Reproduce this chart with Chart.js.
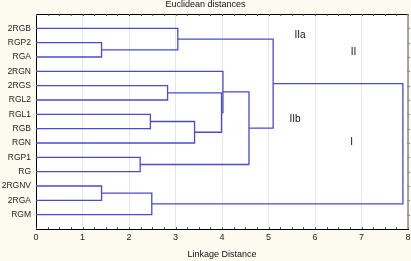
<!DOCTYPE html>
<html>
<head>
<meta charset="utf-8">
<script src="https://cdn.jsdelivr.net/npm/chart.js@4"></script>
<style>
  html, body { margin: 0; padding: 0; background: #fdfbef; }
  #wrap { width: 411px; height: 261px; }
</style>
</head>
<body>
<div id="wrap"><canvas id="c" width="411" height="261"></canvas></div>
<script>
// ---- data ----
const leaves = ['2RGB', 'RGP2', 'RGA', '2RGN', '2RGS', 'RGL2', 'RGL1', 'RGB', 'RGN', 'RGP1', 'RG', '2RGNV', '2RGA', 'RGM'];
// merges: node ids 0..13 are leaves, each merge creates node 14, 15, ...
const mergeA = [1, 0, 4, 6, 17, 16, 3, 9, 20, 15, 11, 24, 23];
const mergeB = [2, 14, 5, 7, 8, 18, 19, 10, 21, 22, 12, 13, 25];
const mergeDist = [1.41, 3.05, 2.83, 2.46, 3.41, 3.99, 4.02, 2.24, 4.58, 5.10, 1.41, 2.49, 7.89];
const xTicks = [0, 1, 2, 3, 4, 5, 6, 7, 8];
const annoText = ['IIa', 'II', 'IIb', 'I'];
const annoX = [5.68, 6.83, 5.57, 6.79];
const annoY = [1.47, 2.65, 7.33, 8.93];
const chartTitle = 'Euclidean distances';
const xTitle = 'Linkage Distance';

// ---- build dendrogram segments from merges ----
const nodeY = leaves.map((_, i) => i + 1);
const nodeH = leaves.map(() => 0);
const datasets = [];
for (let k = 0; k < mergeA.length; k++) {
  const a = mergeA[k], b = mergeB[k], d = mergeDist[k];
  datasets.push({
    data: [
      { x: nodeH[a], y: nodeY[a] },
      { x: d, y: nodeY[a] },
      { x: d, y: nodeY[b] },
      { x: nodeH[b], y: nodeY[b] }
    ],
    showLine: true,
    borderColor: '#4a4ad2',
    borderWidth: 1.3,
    pointRadius: 0,
    fill: false,
    tension: 0
  });
  nodeY.push((nodeY[a] + nodeY[b]) / 2);
  nodeH.push(d);
}

const FONT = '"Liberation Sans", Arial, sans-serif';

const decor = {
  id: 'decor',
  beforeDraw(chart) {
    const { ctx, chartArea: ca } = chart;
    ctx.save();
    ctx.fillStyle = '#fdfbef';
    ctx.fillRect(0, 0, chart.width, chart.height);
    ctx.fillStyle = '#ffffff';
    ctx.fillRect(ca.left, ca.top, ca.right - ca.left, ca.bottom - ca.top);
    ctx.restore();
  },
  afterDraw(chart) {
    const { ctx, chartArea: ca, scales } = chart;
    const xs = scales.x, ys = scales.y;
    ctx.save();
    // top border
    ctx.strokeStyle = '#000';
    ctx.lineWidth = 1;
    ctx.beginPath();
    ctx.moveTo(ca.left, ca.top + 0.5);
    ctx.lineTo(ca.right, ca.top + 0.5);
    ctx.stroke();
    // minor ticks top & bottom
    ctx.strokeStyle = '#555';
    ctx.beginPath();
    for (let v = 0; v <= 8.001; v += 0.25) {
      const px = Math.round(xs.getPixelForValue(v)) + 0.5;
      ctx.moveTo(px, ca.top); ctx.lineTo(px, ca.top + 2);
      ctx.moveTo(px, ca.bottom); ctx.lineTo(px, ca.bottom - 2);
    }
    ctx.stroke();
    // right border (gray) with ticks at leaf rows
    ctx.strokeStyle = '#8a8a8a';
    ctx.lineWidth = 1.5;
    ctx.beginPath();
    ctx.moveTo(ca.right, ca.top);
    ctx.lineTo(ca.right, ca.bottom);
    ctx.stroke();
    ctx.lineWidth = 1;
    ctx.beginPath();
    for (let i = 1; i <= leaves.length; i++) {
      const py = Math.round(ys.getPixelForValue(i)) + 0.5;
      ctx.moveTo(ca.right - 1, py); ctx.lineTo(ca.right + 2, py);
    }
    ctx.stroke();
    // titles
    ctx.fillStyle = '#111';
    ctx.textAlign = 'center';
    ctx.textBaseline = 'middle';
    ctx.font = '9px ' + FONT;
    ctx.fillText(chartTitle, chart.width / 2, 5);
    ctx.fillText(xTitle, (ca.left + ca.right) / 2, 255);
    // cluster annotations
    ctx.font = '10px ' + FONT;
    for (let i = 0; i < annoText.length; i++) {
      ctx.fillText(annoText[i], xs.getPixelForValue(annoX[i]), ys.getPixelForValue(annoY[i]));
    }
    ctx.restore();
  }
};

new Chart(document.getElementById('c'), {
  type: 'scatter',
  data: { datasets },
  options: {
    responsive: false,
    animation: false,
    devicePixelRatio: 1,
    layout: { padding: { top: 14, right: 0, left: 0, bottom: 0 } },
    plugins: { legend: { display: false }, tooltip: { enabled: false }, title: { display: false } },
    scales: {
      x: {
        type: 'linear',
        min: 0, max: 8,
        afterBuildTicks: s => { s.ticks = xTicks.map(v => ({ value: v })); },
        afterFit: s => { s.height = 32; s.paddingRight = 3; },
        ticks: { font: { size: 9, family: FONT }, color: '#222', padding: 3, maxRotation: 0 },
        grid: { color: '#e6e6ee', lineWidth: 1, drawTicks: false },
        border: { color: '#000', width: 1 }
      },
      y: {
        type: 'linear',
        min: 0, max: 15,
        reverse: true,
        afterBuildTicks: s => { s.ticks = leaves.map((_, i) => ({ value: i + 1 })); },
        afterFit: s => { s.width = 36; },
        ticks: {
          font: { size: 8.5, family: FONT }, color: '#222', padding: 5, autoSkip: false,
          callback: v => leaves[v - 1] || ''
        },
        grid: { display: false, drawTicks: false },
        border: { color: '#000', width: 1 }
      }
    }
  },
  plugins: [decor]
});
</script>
</body>
</html>
